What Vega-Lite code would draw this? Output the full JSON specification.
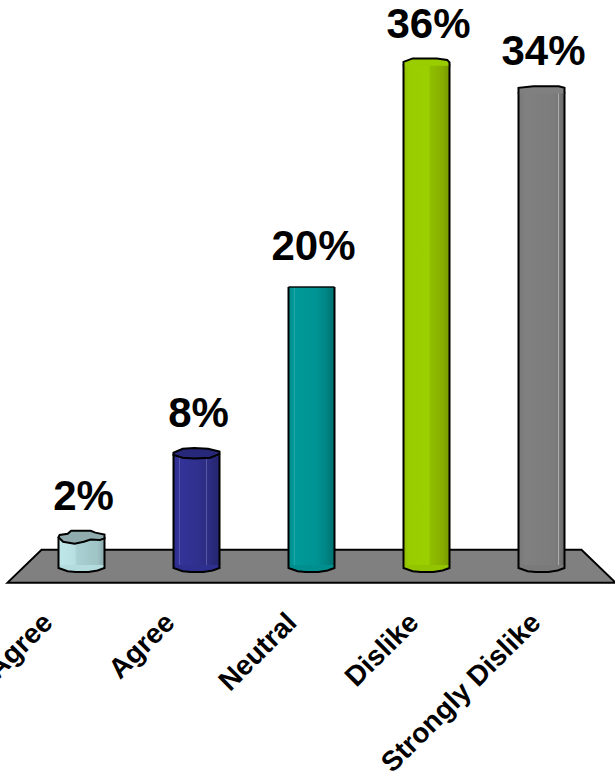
{"$schema":"https://vega.github.io/schema/vega-lite/v6.json","width":615,"height":595,"padding":{"left":0,"top":0,"right":0,"bottom":177},"autosize":"none","background":"white","config":{"view":{"stroke":null}},"resolve":{"scale":{"x":"independent"}},"data":{"values":[{"category":"Strongly Agree","value":2,"label":"2%"},{"category":"Agree","value":8,"label":"8%"},{"category":"Neutral","value":20,"label":"20%"},{"category":"Dislike","value":36,"label":"36%"},{"category":"Strongly Dislike","value":34,"label":"34%"}]},"encoding":{"x":{"field":"category","type":"nominal","sort":null,"scale":{"type":"point","padding":0,"range":[81.5,541.5],"domain":["Strongly Agree","Agree","Neutral","Dislike","Strongly Dislike"]},"axis":null}},"layer":[{"transform":[{"filter":"datum.category==='Neutral'"}],"mark":{"type":"point","filled":true,"fill":"#808080","stroke":"black","strokeWidth":2,"opacity":1,"shape":"M-0.888,-0.05 L0.888,-0.05 L1,0.058 L-1,0.058 Z","size":369664},"encoding":{"y":{"datum":0,"type":"quantitative","scale":{"domain":[-2.158,40.65],"nice":false,"zero":false},"axis":null}}},{"mark":{"type":"point","opacity":0},"encoding":{"y":{"datum":0,"type":"quantitative","axis":null},"x":{"field":"category","type":"nominal","sort":null,"scale":{"type":"point","padding":0,"range":[48,536],"domain":["Strongly Agree","Agree","Neutral","Dislike","Strongly Dislike"]},"axis":{"title":null,"domain":false,"ticks":false,"grid":false,"labelAngle":-45,"labelAlign":"right","labelBaseline":"middle","labelFont":"Liberation Sans","labelFontWeight":"bold","labelFontSize":28,"labelColor":"black","labelPadding":23,"labelOverlap":false,"labelBound":false,"labelFlush":false,"labelLimit":400}}}},{"mark":{"type":"point","filled":true,"stroke":"black","strokeWidth":2,"opacity":1,"shape":"M-1,0 L-1,0.13 L-0.6,0.27 L-0.25,0.3 L0.3,0.3 L0.7,0.24 L1,0.13 L1,0","size":2116},"encoding":{"y":{"datum":0,"type":"quantitative","axis":null},"fill":{"field":"category","type":"nominal","sort":null,"legend":null,"scale":{"domain":["Strongly Agree","Agree","Neutral","Dislike","Strongly Dislike"],"range":["#b4dcde","#2f2f8f","#008f8f","#93c400","#7a7a7a"]}}}},{"transform":[{"filter":"datum.category==='Strongly Agree'"}],"mark":{"type":"bar","size":46,"fill":{"gradient":"linear","x1":0,"y1":0,"x2":1,"y2":0,"stops":[{"offset":0,"color":"#bfe6e8"},{"offset":0.35,"color":"#b8dfe1"},{"offset":0.4,"color":"#a9d0d2"},{"offset":0.85,"color":"#9fc4c6"},{"offset":1,"color":"#8aa9ab"}]}},"encoding":{"y":{"field":"value","type":"quantitative","axis":null},"y2":{"datum":0}}},{"transform":[{"filter":"datum.category==='Agree'"}],"mark":{"type":"bar","size":46,"fill":{"gradient":"linear","x1":0,"y1":0,"x2":1,"y2":0,"stops":[{"offset":0,"color":"#2d2d8a"},{"offset":0.11,"color":"#333399"},{"offset":0.12,"color":"#7a7ac0"},{"offset":0.14,"color":"#333399"},{"offset":0.5,"color":"#30308f"},{"offset":0.7,"color":"#2d2d85"},{"offset":0.71,"color":"#6f6fb5"},{"offset":0.73,"color":"#2d2d85"},{"offset":1,"color":"#25256f"}]}},"encoding":{"y":{"field":"value","type":"quantitative","axis":null},"y2":{"datum":0}}},{"transform":[{"filter":"datum.category==='Neutral'"}],"mark":{"type":"bar","size":46,"fill":{"gradient":"linear","x1":0,"y1":0,"x2":1,"y2":0,"stops":[{"offset":0,"color":"#008c8c"},{"offset":0.11,"color":"#009999"},{"offset":0.12,"color":"#40b5b5"},{"offset":0.14,"color":"#009999"},{"offset":0.6,"color":"#009393"},{"offset":0.8,"color":"#008686"},{"offset":1,"color":"#007070"}]}},"encoding":{"y":{"field":"value","type":"quantitative","axis":null},"y2":{"datum":0}}},{"transform":[{"filter":"datum.category==='Dislike'"}],"mark":{"type":"bar","size":46,"fill":{"gradient":"linear","x1":0,"y1":0,"x2":1,"y2":0,"stops":[{"offset":0,"color":"#8fbf00"},{"offset":0.12,"color":"#9acd00"},{"offset":0.55,"color":"#9ccf00"},{"offset":0.58,"color":"#90bf00"},{"offset":0.85,"color":"#86ad00"},{"offset":1,"color":"#789a00"}]}},"encoding":{"y":{"field":"value","type":"quantitative","axis":null},"y2":{"datum":0}}},{"transform":[{"filter":"datum.category==='Strongly Dislike'"}],"mark":{"type":"bar","size":46,"fill":{"gradient":"linear","x1":0,"y1":0,"x2":1,"y2":0,"stops":[{"offset":0,"color":"#787878"},{"offset":0.15,"color":"#808080"},{"offset":0.78,"color":"#7c7c7c"},{"offset":0.86,"color":"#777777"},{"offset":0.87,"color":"#b0b0b0"},{"offset":0.89,"color":"#777777"},{"offset":1,"color":"#686868"}]}},"encoding":{"y":{"field":"value","type":"quantitative","axis":null},"y2":{"datum":0}}},{"mark":{"type":"rule","color":"black","strokeWidth":2,"xOffset":-23},"encoding":{"y":{"field":"value","type":"quantitative","axis":null},"y2":{"datum":0}}},{"mark":{"type":"rule","color":"black","strokeWidth":2,"xOffset":23},"encoding":{"y":{"field":"value","type":"quantitative","axis":null},"y2":{"datum":0}}},{"transform":[{"filter":"datum.category==='Agree'"}],"mark":{"type":"point","filled":true,"fill":"#28287a","stroke":"black","strokeWidth":2,"opacity":1,"shape":"M-1,-0.05 L-0.6,-0.22 L-0.1,-0.25 L0.5,-0.22 L1,-0.1 L1,0 L0.6,0.17 L-0.1,0.2 L-0.6,0.17 L-1,0.05 Z","size":2116},"encoding":{"y":{"field":"value","type":"quantitative","axis":null}}},{"transform":[{"filter":"datum.category==='Strongly Agree'"}],"mark":{"type":"point","filled":true,"fill":"#8fabae","stroke":"black","strokeWidth":2,"opacity":1,"shape":"M-1,0 L-0.95,-0.1 L-0.6,-0.15 L-0.45,-0.28 L0.4,-0.28 L0.6,-0.2 L1,-0.12 L1,0.05 L0.8,0.12 L0.4,0.1 L0.1,0.2 L-0.3,0.28 L-0.8,0.2 Z","size":2116},"encoding":{"y":{"field":"value","type":"quantitative","axis":null}}},{"transform":[{"filter":"datum.category==='Dislike'"}],"mark":{"type":"point","filled":true,"fill":"#9acd00","stroke":"black","strokeWidth":2,"opacity":1,"shape":"M-1,0.05 L-1,-0.12 L-0.6,-0.27 L0.45,-0.27 L0.9,-0.2 L1,-0.1 L1,0.05","size":2116},"encoding":{"y":{"field":"value","type":"quantitative","axis":null}}},{"transform":[{"filter":"datum.category==='Strongly Dislike'"}],"mark":{"type":"point","filled":true,"fill":"#808080","stroke":"black","strokeWidth":2,"opacity":1,"shape":"M-1,0.05 L-1,-0.2 L-0.35,-0.27 L0.75,-0.27 L1,-0.2 L1,0.05","size":2116},"encoding":{"y":{"field":"value","type":"quantitative","axis":null}}},{"transform":[{"filter":"datum.category==='Neutral'"}],"mark":{"type":"tick","color":"black","thickness":2,"size":46,"orient":"horizontal"},"encoding":{"y":{"field":"value","type":"quantitative","axis":null}}},{"mark":{"type":"text","font":"Liberation Sans","fontWeight":"bold","fontSize":42,"color":"black","baseline":"alphabetic","dy":-27,"dx":2},"encoding":{"y":{"field":"value","type":"quantitative","axis":null},"text":{"field":"label"}}}]}
